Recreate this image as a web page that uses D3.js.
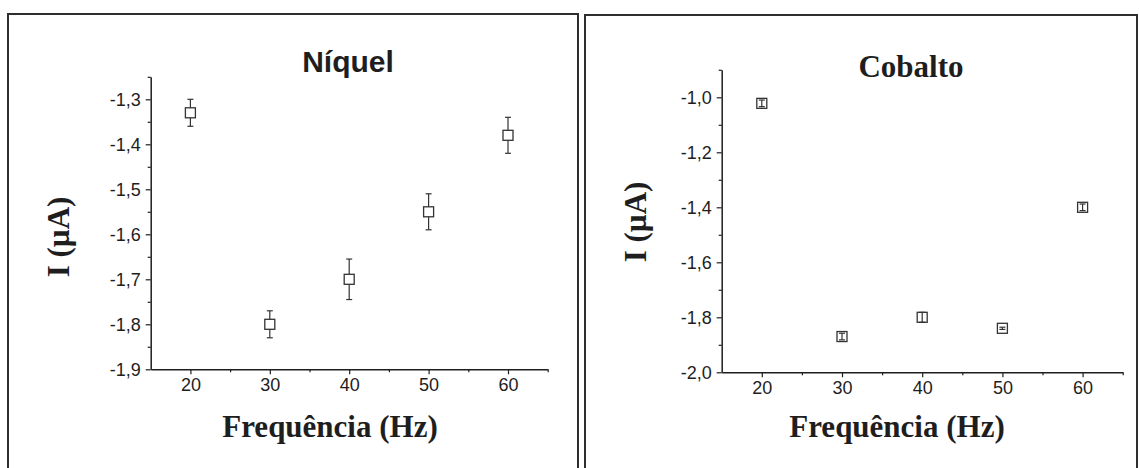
<!DOCTYPE html>
<html><head><meta charset="utf-8">
<script src="https://cdn.jsdelivr.net/npm/d3@7"></script>
<style>body{margin:0;background:#fff} svg{display:block}</style>
</head><body>
<svg id="c" width="1139" height="468"></svg>
<script>
const frequencies = [20, 30, 40, 50, 60];
const niquelCurrent = [-1.33, -1.80, -1.70, -1.55, -1.38];
const niquelError = [0.03, 0.03, 0.045, 0.04, 0.04];
const cobaltoCurrent = [-1.022, -1.87, -1.80, -1.84, -1.40];
const cobaltoError = [0.012, 0.012, 0.018, 0.004, 0.012];
const xTickLabels = [20, 30, 40, 50, 60];
const xMinorTicks = [25, 35, 45, 55, 65];
const niquelYTicks = [-1.9, -1.8, -1.7, -1.6, -1.5, -1.4, -1.3];
const niquelYMinor = [-1.85, -1.75, -1.65, -1.55, -1.45, -1.35, -1.25];
const cobaltoYTicks = [-2.0, -1.8, -1.6, -1.4, -1.2, -1.0];
const cobaltoYMinor = [-1.9, -1.7, -1.5, -1.3, -1.1, -0.9];

const svg = d3.select("#c");
const fmt = d => d.toFixed(1).replace(".", ",");
const ink = "#1e1e1e";

const panels = [
  {
    border: {x: 8, y: 14, w: 570, h: 470},
    xr: [150.7, 547.7], yr: [369.3, 76.8],
    xDomain: [15, 65], yDomain: [-1.9, -1.25],
    yTicks: niquelYTicks, yMinor: niquelYMinor,
    values: niquelCurrent, errors: niquelError,
    title: "Níquel", titleFont: "'Liberation Sans', Arial, sans-serif", titleSize: 30, titlePos: [348, 72],
    xTitlePos: [330, 437], yTitlePos: [69, 237]
  },
  {
    border: {x: 585, y: 15, w: 552, h: 470},
    xr: [721.7, 1122.7], yr: [372.3, 69.8],
    xDomain: [15, 65], yDomain: [-2.0, -0.9],
    yTicks: cobaltoYTicks, yMinor: cobaltoYMinor,
    values: cobaltoCurrent, errors: cobaltoError,
    title: "Cobalto", titleFont: "'Liberation Serif', 'Times New Roman', serif", titleSize: 31, titlePos: [911, 77],
    xTitlePos: [897, 437], yTitlePos: [646, 222]
  }
];

panels.forEach(p => {
  svg.append("rect")
    .attr("x", p.border.x).attr("y", p.border.y)
    .attr("width", p.border.w).attr("height", p.border.h)
    .attr("fill", "none").attr("stroke", "#2e2e2e").attr("stroke-width", 2);

  const x = d3.scaleLinear().domain(p.xDomain).range(p.xr);
  const y = d3.scaleLinear().domain(p.yDomain).range(p.yr);
  const g = svg.append("g");

  // x axis
  const xa = g.append("g").attr("transform", `translate(0,${p.yr[0]})`)
    .call(d3.axisBottom(x).tickValues(xTickLabels).tickSize(5).tickSizeOuter(0).tickPadding(4)
      .tickFormat(d => d));
  g.append("g").attr("transform", `translate(0,${p.yr[0]})`)
    .call(d3.axisBottom(x).tickValues(xMinorTicks).tickSize(3).tickSizeOuter(0).tickFormat(""))
    .select(".domain").remove();

  // y axis
  const ya = g.append("g").attr("transform", `translate(${p.xr[0]},0)`)
    .call(d3.axisLeft(y).tickValues(p.yTicks).tickSize(5).tickSizeOuter(0).tickPadding(5)
      .tickFormat(fmt));
  g.append("g").attr("transform", `translate(${p.xr[0]},0)`)
    .call(d3.axisLeft(y).tickValues(p.yMinor).tickSize(3).tickSizeOuter(0).tickFormat(""))
    .select(".domain").remove();

  g.selectAll(".domain").attr("stroke", ink).attr("stroke-width", 1.5);
  g.selectAll(".tick line").attr("stroke", ink).attr("stroke-width", 1.2);
  g.selectAll(".tick text").attr("fill", ink)
    .style("font-family", "'Liberation Sans', Arial, sans-serif").style("font-size", "18px");

  // error bars
  const eb = g.append("g").attr("stroke", "#333").attr("stroke-width", 1.2).attr("fill", "none");
  frequencies.forEach((f, i) => {
    const cx = x(f), top = y(p.values[i] + p.errors[i]), bot = y(p.values[i] - p.errors[i]);
    eb.append("line").attr("x1", cx).attr("x2", cx).attr("y1", top).attr("y2", bot);
    eb.append("line").attr("x1", cx - 3).attr("x2", cx + 3).attr("y1", top).attr("y2", top);
    eb.append("line").attr("x1", cx - 3).attr("x2", cx + 3).attr("y1", bot).attr("y2", bot);
  });

  // markers (hollow squares)
  g.append("g").selectAll("rect").data(frequencies).join("rect")
    .attr("x", d => x(d) - 5).attr("y", (d, i) => y(p.values[i]) - 5)
    .attr("width", 10).attr("height", 10)
    .attr("fill", p.title === "Níquel" ? "#fff" : "none")
    .attr("stroke", "#333").attr("stroke-width", 1.3);

  // titles
  svg.append("text").attr("x", p.titlePos[0]).attr("y", p.titlePos[1])
    .attr("text-anchor", "middle").attr("fill", ink)
    .style("font-family", p.titleFont).style("font-weight", "bold").style("font-size", p.titleSize + "px")
    .text(p.title);
  svg.append("text").attr("x", p.xTitlePos[0]).attr("y", p.xTitlePos[1])
    .attr("text-anchor", "middle").attr("fill", ink)
    .style("font-family", "'Liberation Serif', 'Times New Roman', serif").style("font-weight", "bold").style("font-size", "31px")
    .text("Frequência (Hz)");
  svg.append("text").attr("transform", `translate(${p.yTitlePos[0]},${p.yTitlePos[1]}) rotate(-90)`)
    .attr("text-anchor", "middle").attr("fill", ink)
    .style("font-family", "'Liberation Serif', 'Times New Roman', serif").style("font-weight", "bold").style("font-size", "31px")
    .text("I (µA)");
});
</script>
</body></html>
